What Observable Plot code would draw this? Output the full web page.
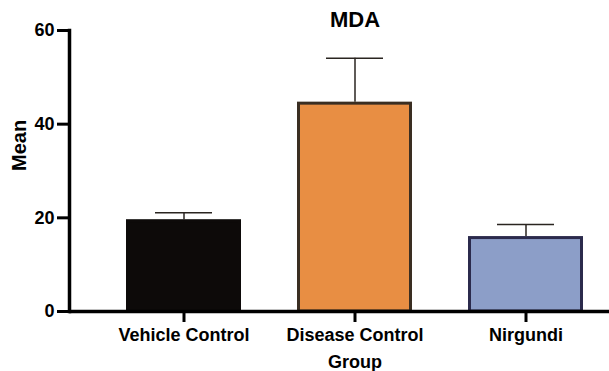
<!DOCTYPE html>
<html><head><meta charset="utf-8">
<script src="https://cdn.jsdelivr.net/npm/d3@7"></script>
<script src="https://cdn.jsdelivr.net/npm/@observablehq/plot@0.6"></script>
<style>body{margin:0;background:#fff;font-family:"Liberation Sans",Arial,sans-serif}</style>
</head><body><div id="chart"></div>
<script>
const groups = ["Vehicle Control", "Disease Control", "Nirgundi"];
const means = [19.6, 44.7, 16.0];
const errors = [1.5, 9.4, 2.6];
const fills = ["#0d0a09", "#e88e43", "#8c9ec8"];
const strokes = ["#0d0a09", "#3a2e22", "#2b2a4c"];
const yTicks = [0, 20, 40, 60];
const title = "MDA";

const data = groups.map((g, i) => ({group: g, mean: means[i], err: errors[i], top: means[i] + errors[i], fill: fills[i], stroke: strokes[i]}));

const chart = Plot.plot({
  width: 609, height: 371,
  marginLeft: 69, marginRight: 0, marginTop: 30, marginBottom: 60,
  style: {fontFamily: "'Liberation Sans', Arial, sans-serif", background: "#fff"},
  x: {domain: groups, paddingInner: 0.33, paddingOuter: 0.24, align: 0.68, label: null},
  y: {domain: [0, 60], label: null},
  marks: [
    Plot.ruleX(data, {x: "group", y1: "mean", y2: "top", stroke: "#2a2520", strokeWidth: 1.5}),
    Plot.tickY(data, {x: "group", y: "top", stroke: "#2a2520", strokeWidth: 1.5, insetLeft: 29, insetRight: 29}),
    Plot.barY(data, {x: "group", y: "mean", fill: "fill", stroke: "stroke", strokeWidth: 3, insetLeft: 1.5, insetRight: 1.5, insetTop: 1.5}),
    Plot.axisY({ticks: yTicks, tickSize: 12, tickPadding: 3, strokeWidth: 3, fontSize: 18, fontWeight: "bold", fill: "#000", stroke: "#000", label: null}),
    Plot.text(["Mean"], {frameAnchor: "left", dx: -50, rotate: -90, fontSize: 20, fontWeight: "bold", fill: "#000"}),
    Plot.axisX({tickSize: 0, tickPadding: 17, fontSize: 18, fontWeight: "bold", fill: "#000", label: null}),
    Plot.ruleX(groups, {x: d => d, y1: 0, y2: 0, insetBottom: -11, stroke: "#000", strokeWidth: 3}),
    Plot.text(["Group"], {x: () => "Disease Control", frameAnchor: "bottom", lineAnchor: "middle", dy: 51, fontSize: 18, fontWeight: "bold", fill: "#000"}),
    Plot.text([title], {x: () => "Disease Control", frameAnchor: "top", lineAnchor: "middle", dy: -11, fontSize: 22, fontWeight: "bold", fill: "#000"}),
    Plot.ruleY([0], {stroke: "#000", strokeWidth: 3.5}),
    Plot.frame({anchor: "left", stroke: "#000", strokeWidth: 3.5})
  ]
});
document.getElementById("chart").appendChild(chart);
</script></body></html>
